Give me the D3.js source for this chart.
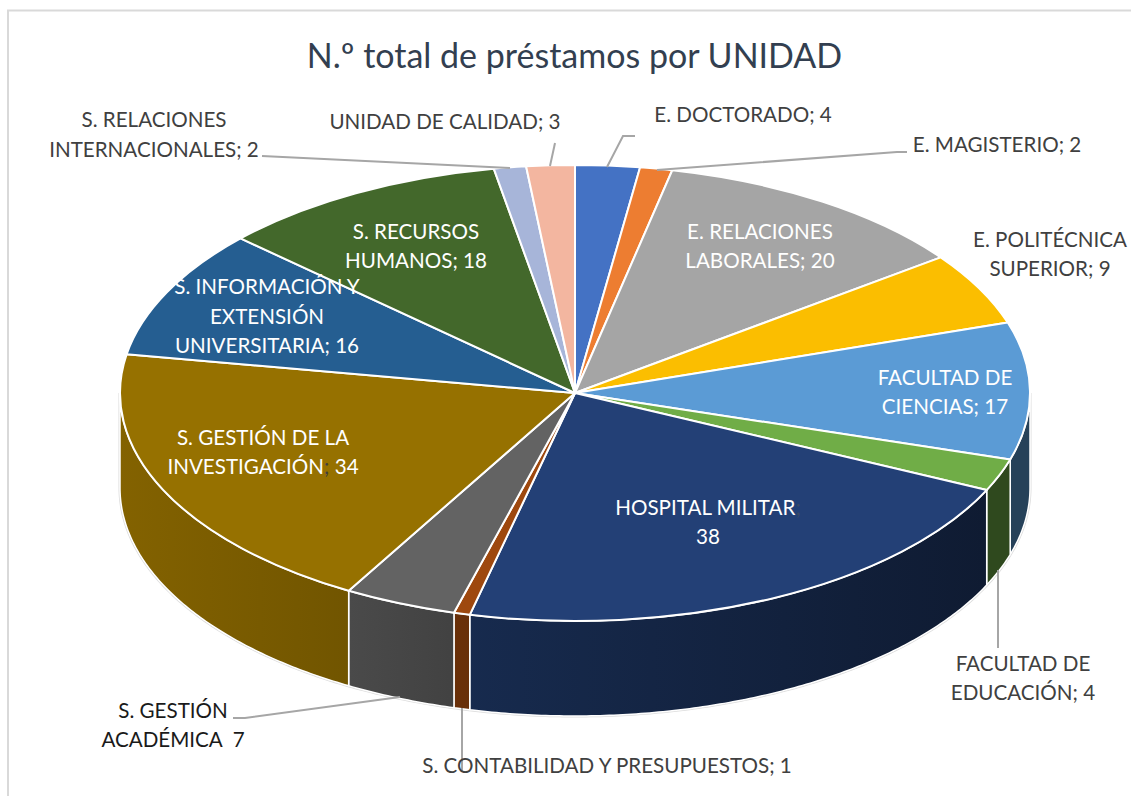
<!DOCTYPE html>
<html><head><meta charset="utf-8">
<style>html,body{margin:0;padding:0;background:#fff}svg{display:block}text{font-family:Lato,"Open Sans",sans-serif;white-space:pre}</style>
<script src="https://cdn.jsdelivr.net/npm/d3@7/dist/d3.min.js"></script>
</head><body><svg id="c" width="1131" height="796"></svg>
<script>
const chartTitle = "N.º total de préstamos por UNIDAD";
const categories = ["E. DOCTORADO","E. MAGISTERIO","E. RELACIONES LABORALES","E. POLITÉCNICA SUPERIOR","FACULTAD DE CIENCIAS","FACULTAD DE EDUCACIÓN","HOSPITAL MILITAR","S. CONTABILIDAD Y PRESUPUESTOS","S. GESTIÓN ACADÉMICA","S. GESTIÓN DE LA INVESTIGACIÓN","S. INFORMACIÓN Y EXTENSIÓN UNIVERSITARIA","S. RECURSOS HUMANOS","S. RELACIONES INTERNACIONALES","UNIDAD DE CALIDAD"];
const values = [4,2,20,9,17,4,38,1,7,34,16,18,2,3];
const colors = ["#4472C4","#ED7D31","#A5A5A5","#FBBE00","#5B9BD5","#70AD47","#234076","#9E480E","#636363","#967100","#255E91","#43682B","#A7B5D9","#F3B6A0"];
// Text of each data label, line by line
const labelLines = [["E. DOCTORADO; 4"],["E. MAGISTERIO; 2"],["E. RELACIONES","LABORALES; 20"],["E. POLITÉCNICA","SUPERIOR; 9"],["FACULTAD DE","CIENCIAS; 17"],["FACULTAD DE","EDUCACIÓN; 4"],["HOSPITAL MILITAR;","38"],["S. CONTABILIDAD Y PRESUPUESTOS; 1"],["S. GESTIÓN","ACADÉMICA  7"],["S. GESTIÓN DE LA","INVESTIGACIÓN; 34"],["S. INFORMACIÓN Y","EXTENSIÓN","UNIVERSITARIA; 16"],["S. RECURSOS","HUMANOS; 18"],["S. RELACIONES","INTERNACIONALES; 2"],["UNIDAD DE CALIDAD; 3"]];
// Layout (not data): label anchor [centre x, first baseline, line gap, colour]
const labelLayout = [[743,122,30,"#404040"],[997,152,30,"#404040"],[760,239,29,"#fff"],[1050,247,29,"#404040"],[945,385,29,"#fff"],[1023,671,29,"#404040"],[708,515,29,"#fff"],[607,773,30,"#404040"],[173,718,29,"#1a1a1a"],[263,445,29,"#fff"],[267,294,29.5,"#fff"],[416,239,29,"#fff"],[154,127,30,"#404040"],[445,129,30,"#404040"]];
const leaderLayout = [[[635,136],[623,136],[607,167]],[[907,152],[897,152],[657,170]],[],[],[],[[998,570],[998,648]],[],[[462,708],[462,771]],[[233,718],[245,718],[400,697]],[],[],[],[[262,156],[510,168]],[[555,143],[550,166]]];

const W=1131,H=796,cx=575,cy=393,rx=455,ry=228,depth=95;
const svg=d3.select("#c");
const xPos=d3.scaleLinear().domain([-1,1]).range([cx-rx,cx+rx]);
const yPos=d3.scaleLinear().domain([-1,1]).range([cy-ry,cy+ry]);
const shade=d3.scaleLinear().domain([cx-rx,cx-rx+229,cx-rx+330,cx-rx+867,cx+rx]).range([.87,.75,.67,.42,.42]);
const defs=svg.append("defs");

// frame
svg.append("path").attr("d",d3.line()([[W,10.5],[8,10.5],[8,H]])).attr("fill","none").attr("stroke","#d9d9d9").attr("stroke-width",2);

const pieGen=d3.pie().sort(null).value(d=>d);
const arcs=pieGen(values);
const HALF=Math.PI/2;
const ptX=a=>xPos(Math.sin(a)), ptY=a=>yPos(-Math.cos(a));
const wallLine=d3.line();
function wallPts(a0,a1){
  const n=Math.max(2,Math.ceil((a1-a0)/0.01));
  const as=d3.range(n+1).map(i=>a0+(a1-a0)*i/n);
  const upper=as.map(a=>[ptX(a),ptY(a)]);
  const lower=as.slice().reverse().map(a=>[ptX(a),ptY(a)+depth]);
  return upper.concat(lower);
}
// silhouette faint edge
svg.append("path").attr("d",wallLine(wallPts(HALF,3*HALF))+"Z").attr("fill","none").attr("stroke","#dcdcdc").attr("stroke-width",3);

// side walls
arcs.forEach((d,i)=>{
  const a0=Math.max(d.startAngle,HALF),a1=Math.min(d.endAngle,3*HALF);
  if(a1<=a0) return;
  const gid="w"+i;
  const g=defs.append("linearGradient").attr("id",gid).attr("gradientUnits","userSpaceOnUse")
    .attr("x1",cx-rx).attr("x2",cx+rx).attr("y1",0).attr("y2",0);
  shade.domain().forEach(px=>{
    const c=d3.rgb(colors[i]),m=shade(px);
    g.append("stop").attr("offset",(px-(cx-rx))/(2*rx)).attr("stop-color",d3.rgb(c.r*m,c.g*m,c.b*m).formatHex());
  });
  svg.append("path").attr("d",wallLine(wallPts(a0,a1))+"Z").attr("fill",`url(#${gid})`).attr("stroke","#fff").attr("stroke-width",1.5).attr("stroke-linejoin","round");
});

// top face
const arcGen=d3.arc().innerRadius(0).outerRadius(rx);
const topFace=svg.append("g").attr("transform",`translate(${cx},${cy}) scale(1,${ry/rx})`);
topFace.selectAll("path").data(arcs).join("path").attr("d",arcGen).attr("fill",(d,i)=>colors[i])
  .attr("stroke","#fff").attr("stroke-width",2).attr("vector-effect","non-scaling-stroke").attr("stroke-linejoin","round");

// leader lines
svg.append("g").selectAll("path").data(leaderLayout.filter(l=>l.length)).join("path")
  .attr("d",d=>d3.line()(d)).attr("fill","none").attr("stroke","#a6a6a6").attr("stroke-width",2);

// title
svg.append("text").attr("x",574.5).attr("y",68).attr("text-anchor","middle").attr("font-size",34).attr("fill","#333F50").text(chartTitle);

// labels
const fs=20.6;
labelLines.forEach((lines,i)=>{
  const [lx,ly,gap,col]=labelLayout[i];
  const t=svg.append("text").attr("text-anchor","middle").attr("font-size",fs).attr("fill",col);
  lines.forEach((s,j)=>{
    const ts=t.append("tspan").attr("x",lx).attr("y",ly+j*gap);
    const darkSemi=(i===6||i===9)&&s.includes(";");
    if(darkSemi){
      const [a,b]=s.split(";");
      ts.append("tspan").text(a);
      ts.append("tspan").attr("fill",i===6?"#3a4a66":"#404040").text(";");
      if(b) ts.append("tspan").text(b);
    } else ts.text(s);
  });
});
</script></body></html>
